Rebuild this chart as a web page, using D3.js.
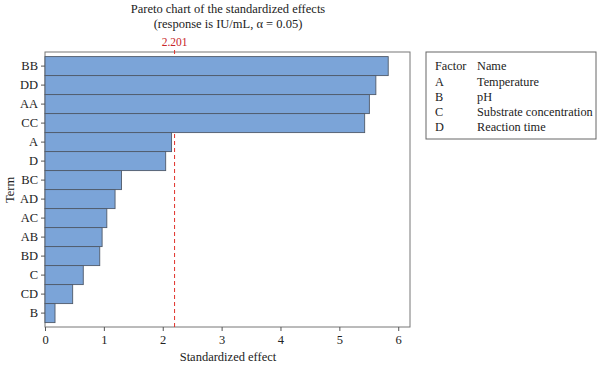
<!DOCTYPE html>
<html><head><meta charset="utf-8">
<script src="https://cdn.jsdelivr.net/npm/d3@7"></script>
<style>body{margin:0;background:#fff}svg{display:block}text{font-family:"Liberation Serif","DejaVu Serif",serif;}</style>
</head><body><svg id="c" width="600" height="366"></svg>
<script>
const terms = ["BB","DD","AA","CC","A","D","BC","AD","AC","AB","BD","C","CD","B"];
const effects = [5.83,5.62,5.51,5.43,2.15,2.05,1.30,1.19,1.05,0.97,0.93,0.65,0.47,0.17];
const xTicks = [0,1,2,3,4,5,6];
const refValue = 2.201;
const legendFactors = ["A","B","C","D"];
const legendNames = ["Temperature","pH","Substrate concentration","Reaction time"];

const svg = d3.select("#c");
const L=45,R=410,T=52,B=327;
const x = d3.scaleLinear().domain([0,6.2]).range([L,R]);
const y = d3.scaleBand().domain(terms).range([T+4.6,B-4.4]).padding(0);

svg.append("text").attr("x",228).attr("y",13).attr("text-anchor","middle").attr("font-size",12.5).attr("fill","#222").text("Pareto chart of the standardized effects");
svg.append("text").attr("x",228).attr("y",28).attr("text-anchor","middle").attr("font-size",12.5).attr("fill","#222").text("(response is IU/mL, α = 0.05)");

svg.append("rect").attr("x",L).attr("y",T).attr("width",R-L).attr("height",B-T).attr("fill","none").attr("stroke","#777").attr("stroke-width",1);

svg.append("line").attr("x1",x(refValue)).attr("x2",x(refValue)).attr("y1",T-2).attr("y2",B)
 .attr("stroke","#e0302a").attr("stroke-width",1).attr("stroke-dasharray","4,3");
svg.append("text").attr("x",x(refValue)).attr("y",46).attr("text-anchor","middle").attr("font-size",11.5).attr("fill","#c8252a").text(refValue.toFixed(3));

svg.selectAll("rect.bar").data(terms).enter().append("rect").attr("class","bar")
 .attr("x",x(0)).attr("y",d=>y(d)).attr("width",(d,i)=>x(effects[i])-x(0)).attr("height",y.bandwidth())
 .attr("fill","#7ba4d8").attr("stroke","#4f5a6a").attr("stroke-width",0.9);

const ya = svg.append("g").attr("transform",`translate(${L},0)`).call(d3.axisLeft(y).tickSize(4).tickPadding(3));
ya.select(".domain").remove();
ya.selectAll("line").attr("stroke","#555");
ya.selectAll("text").attr("font-size",12.5).attr("fill","#222").style("font-family","Liberation Serif, serif");

const xa = svg.append("g").attr("transform",`translate(0,${B})`).call(d3.axisBottom(x).tickValues(xTicks).tickFormat(d3.format("d")).tickSize(4).tickPadding(4));
xa.select(".domain").remove();
xa.selectAll("line").attr("stroke","#555");
xa.selectAll("text").attr("font-size",12.5).attr("fill","#222").style("font-family","Liberation Serif, serif");

svg.append("text").attr("x",228).attr("y",361).attr("text-anchor","middle").attr("font-size",12.5).attr("fill","#222").text("Standardized effect");
svg.append("text").attr("transform","translate(14,190) rotate(-90)").attr("text-anchor","middle").attr("font-size",12.5).attr("fill","#222").text("Term");

svg.append("rect").attr("x",426).attr("y",52).attr("width",170).attr("height",87).attr("fill","none").attr("stroke","#666").attr("stroke-width",1);
svg.append("text").attr("x",435).attr("y",70).attr("font-size",12.3).attr("fill","#222").text("Factor");
svg.append("text").attr("x",477).attr("y",70).attr("font-size",12.3).attr("fill","#222").text("Name");
legendFactors.forEach((f,i)=>{
  svg.append("text").attr("x",435).attr("y",85.5+i*15.3).attr("font-size",12.3).attr("fill","#222").text(f);
  svg.append("text").attr("x",477).attr("y",85.5+i*15.3).attr("font-size",12.3).attr("fill","#222").text(legendNames[i]);
});
</script></body></html>
